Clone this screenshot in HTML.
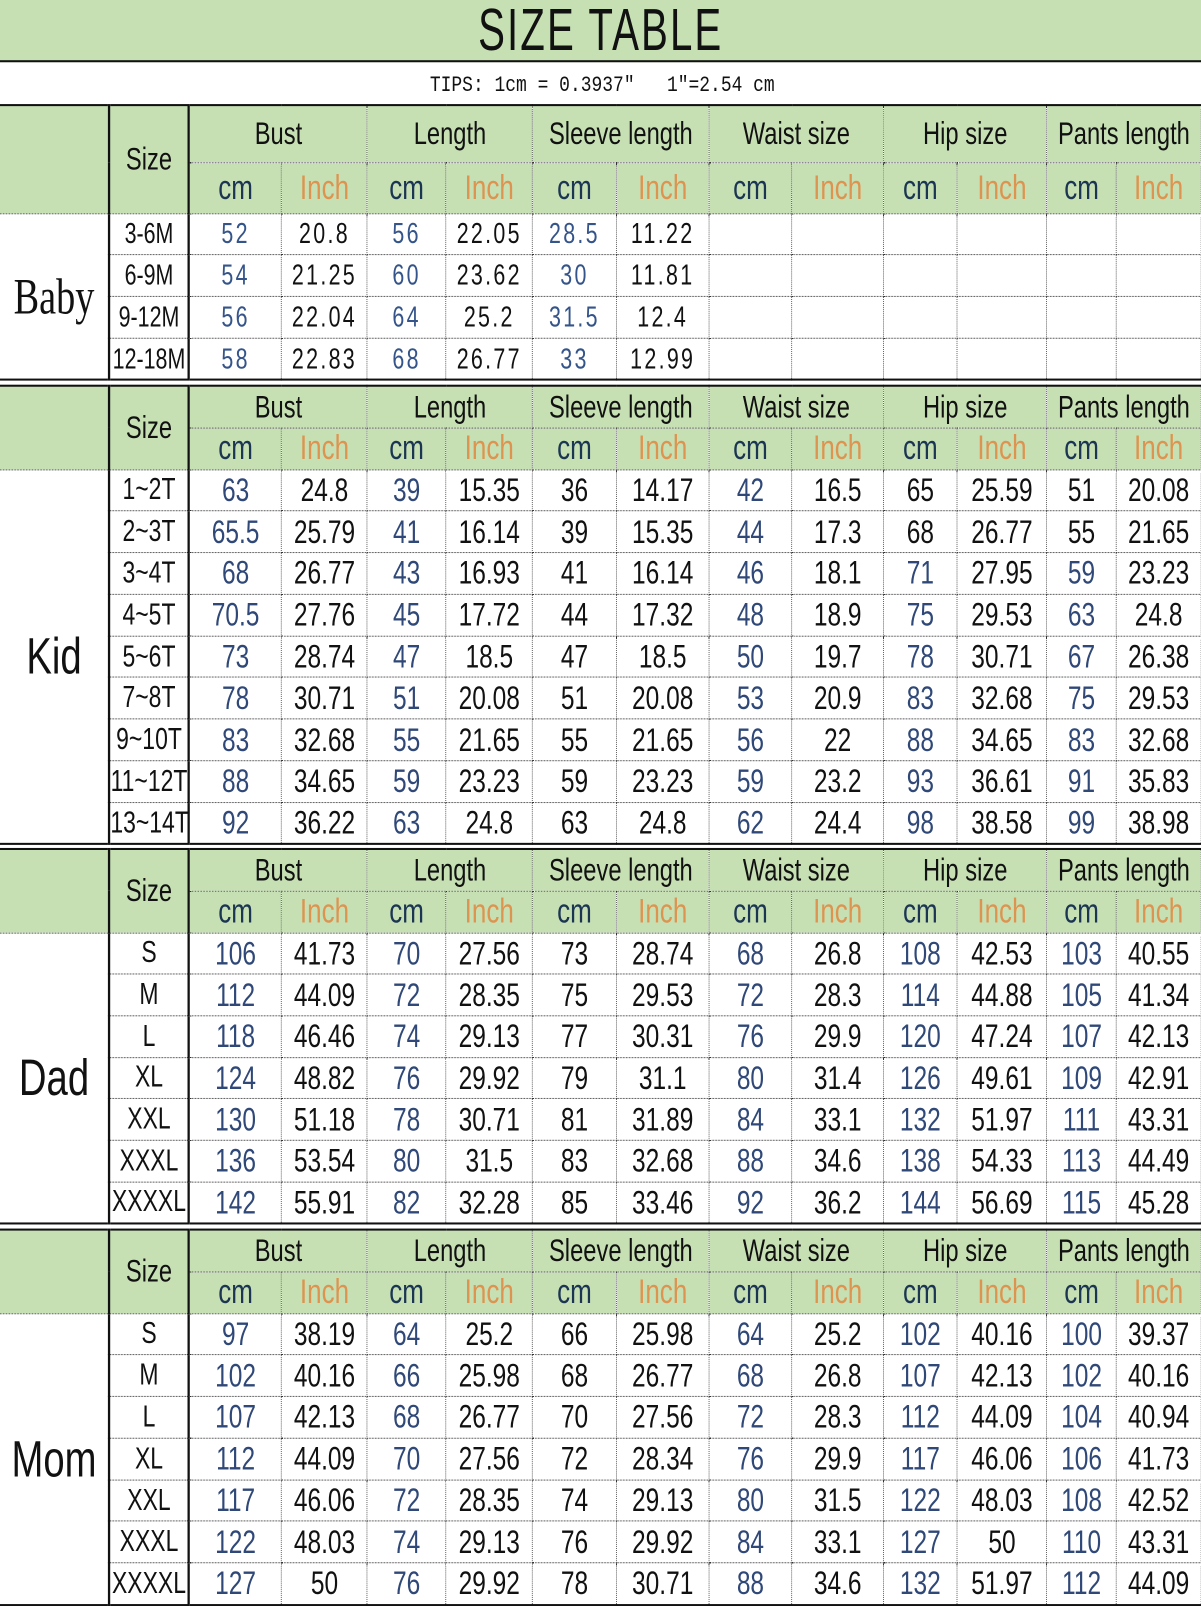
<!DOCTYPE html>
<html><head><meta charset="utf-8">
<style>
body{margin:0;width:1201px;height:1600px;overflow:hidden;background:#fff;position:relative;font-family:"Liberation Sans",sans-serif;}
#w{position:absolute;left:0;top:0;width:1177px;height:1568px;transform:scale(1.0204);transform-origin:0 0;}
.title{position:absolute;left:0;top:0;width:1177px;height:59px;background:#c6e0b4;border-bottom:2px solid #111;text-align:center;font-size:58px;line-height:60px;color:#111;}
.title span{display:inline-block;transform:scaleX(0.68);letter-spacing:3px;}
.tips{position:absolute;left:0;top:71px;width:1180px;text-align:center;font-size:22px;color:#111;font-family:"Liberation Mono",monospace;}
.tips span{display:inline-block;transform:scaleX(0.8);}
table{position:absolute;left:0;width:1569px;border-collapse:collapse;table-layout:fixed;border-top:2px solid #111;border-bottom:2px solid #111;transform:scaleX(0.75);transform-origin:0 0;}
td{border:1px dotted #333;text-align:center;padding:0;overflow:hidden;white-space:nowrap;font-size:32px;color:#111;}
td.cat{border-left:none;border-right:3px solid #111;font-size:50px;background:#fff;}
td.sz{border-right:3px solid #111;font-size:30px;}
tr.h td{background:#c6e0b4;font-size:31px;}
td.c{color:#2f4878;}
td.hc{color:#1b3552;}
td.hi{color:#dd9450;}
tr.h2 td{font-size:34px;}
.bb td{font-size:28px;letter-spacing:3px;}
.bb td.c{color:#34548a;}
.bb td.cat{font-family:"Liberation Serif",serif;font-size:50px;letter-spacing:0;}
.bb td.sz{letter-spacing:0;}
</style></head><body>
<div id="w">
<div class="title"><span>SIZE TABLE</span></div>
<div class="tips"><span>TIPS: 1cm = 0.3937″&nbsp;&nbsp;&nbsp;1″=2.54 cm</span></div>

<table style="top:102px">
<colgroup><col style="width:142.7px"><col style="width:104px"><col style="width:121.3px"><col style="width:112px"><col style="width:102.7px"><col style="width:113.3px"><col style="width:109.3px"><col style="width:121.3px"><col style="width:108px"><col style="width:120px"><col style="width:96px"><col style="width:117.3px"><col style="width:90.7px"><col style="width:110.7px"></colgroup>
<tr class="h" style="height:56px"><td class="cat" rowspan="2"></td><td class="sz" rowspan="2">Size</td><td colspan="2">Bust</td><td colspan="2">Length</td><td colspan="2">Sleeve length</td><td colspan="2">Waist size</td><td colspan="2">Hip size</td><td colspan="2">Pants length</td></tr>
<tr class="h h2" style="height:50px"><td class="hc">cm</td><td class="hi">Inch</td><td class="hc">cm</td><td class="hi">Inch</td><td class="hc">cm</td><td class="hi">Inch</td><td class="hc">cm</td><td class="hi">Inch</td><td class="hc">cm</td><td class="hi">Inch</td><td class="hc">cm</td><td class="hi">Inch</td></tr>
<tbody class="bb">
<tr style="height:40.8px"><td class="cat" rowspan="4">Baby</td><td class="sz">3-6M</td><td class="c">52</td><td>20.8</td><td class="c">56</td><td>22.05</td><td class="c">28.5</td><td>11.22</td><td></td><td></td><td></td><td></td><td></td><td></td></tr>
<tr style="height:40.8px"><td class="sz">6-9M</td><td class="c">54</td><td>21.25</td><td class="c">60</td><td>23.62</td><td class="c">30</td><td>11.81</td><td></td><td></td><td></td><td></td><td></td><td></td></tr>
<tr style="height:40.8px"><td class="sz">9-12M</td><td class="c">56</td><td>22.04</td><td class="c">64</td><td>25.2</td><td class="c">31.5</td><td>12.4</td><td></td><td></td><td></td><td></td><td></td><td></td></tr>
<tr style="height:40.8px"><td class="sz">12-18M</td><td class="c">58</td><td>22.83</td><td class="c">68</td><td>26.77</td><td class="c">33</td><td>12.99</td><td></td><td></td><td></td><td></td><td></td><td></td></tr>
</tbody></table>

<table style="top:377px">
<colgroup><col style="width:142.7px"><col style="width:104px"><col style="width:121.3px"><col style="width:112px"><col style="width:102.7px"><col style="width:113.3px"><col style="width:109.3px"><col style="width:121.3px"><col style="width:108px"><col style="width:120px"><col style="width:96px"><col style="width:117.3px"><col style="width:90.7px"><col style="width:110.7px"></colgroup>
<tr class="h" style="height:41px"><td class="cat" rowspan="2"></td><td class="sz" rowspan="2">Size</td><td colspan="2">Bust</td><td colspan="2">Length</td><td colspan="2">Sleeve length</td><td colspan="2">Waist size</td><td colspan="2">Hip size</td><td colspan="2">Pants length</td></tr>
<tr class="h h2" style="height:41px"><td class="hc">cm</td><td class="hi">Inch</td><td class="hc">cm</td><td class="hi">Inch</td><td class="hc">cm</td><td class="hi">Inch</td><td class="hc">cm</td><td class="hi">Inch</td><td class="hc">cm</td><td class="hi">Inch</td><td class="hc">cm</td><td class="hi">Inch</td></tr>
<tr style="height:40.8px"><td class="cat" rowspan="9">Kid</td><td class="sz">1~2T</td><td class="c">63</td><td>24.8</td><td class="c">39</td><td>15.35</td><td>36</td><td>14.17</td><td class="c">42</td><td>16.5</td><td>65</td><td>25.59</td><td>51</td><td>20.08</td></tr>
<tr style="height:40.8px"><td class="sz">2~3T</td><td class="c">65.5</td><td>25.79</td><td class="c">41</td><td>16.14</td><td>39</td><td>15.35</td><td class="c">44</td><td>17.3</td><td>68</td><td>26.77</td><td>55</td><td>21.65</td></tr>
<tr style="height:40.8px"><td class="sz">3~4T</td><td class="c">68</td><td>26.77</td><td class="c">43</td><td>16.93</td><td>41</td><td>16.14</td><td class="c">46</td><td>18.1</td><td class="c">71</td><td>27.95</td><td class="c">59</td><td>23.23</td></tr>
<tr style="height:40.8px"><td class="sz">4~5T</td><td class="c">70.5</td><td>27.76</td><td class="c">45</td><td>17.72</td><td>44</td><td>17.32</td><td class="c">48</td><td>18.9</td><td class="c">75</td><td>29.53</td><td class="c">63</td><td>24.8</td></tr>
<tr style="height:40.8px"><td class="sz">5~6T</td><td class="c">73</td><td>28.74</td><td class="c">47</td><td>18.5</td><td>47</td><td>18.5</td><td class="c">50</td><td>19.7</td><td class="c">78</td><td>30.71</td><td class="c">67</td><td>26.38</td></tr>
<tr style="height:40.8px"><td class="sz">7~8T</td><td class="c">78</td><td>30.71</td><td class="c">51</td><td>20.08</td><td>51</td><td>20.08</td><td class="c">53</td><td>20.9</td><td class="c">83</td><td>32.68</td><td class="c">75</td><td>29.53</td></tr>
<tr style="height:40.8px"><td class="sz">9~10T</td><td class="c">83</td><td>32.68</td><td class="c">55</td><td>21.65</td><td>55</td><td>21.65</td><td class="c">56</td><td>22</td><td class="c">88</td><td>34.65</td><td class="c">83</td><td>32.68</td></tr>
<tr style="height:40.8px"><td class="sz">11~12T</td><td class="c">88</td><td>34.65</td><td class="c">59</td><td>23.23</td><td>59</td><td>23.23</td><td class="c">59</td><td>23.2</td><td class="c">93</td><td>36.61</td><td class="c">91</td><td>35.83</td></tr>
<tr style="height:40.8px"><td class="sz">13~14T</td><td class="c">92</td><td>36.22</td><td class="c">63</td><td>24.8</td><td>63</td><td>24.8</td><td class="c">62</td><td>24.4</td><td class="c">98</td><td>38.58</td><td class="c">99</td><td>38.98</td></tr>
</table>

<table style="top:831px">
<colgroup><col style="width:142.7px"><col style="width:104px"><col style="width:121.3px"><col style="width:112px"><col style="width:102.7px"><col style="width:113.3px"><col style="width:109.3px"><col style="width:121.3px"><col style="width:108px"><col style="width:120px"><col style="width:96px"><col style="width:117.3px"><col style="width:90.7px"><col style="width:110.7px"></colgroup>
<tr class="h" style="height:41px"><td class="cat" rowspan="2"></td><td class="sz" rowspan="2">Size</td><td colspan="2">Bust</td><td colspan="2">Length</td><td colspan="2">Sleeve length</td><td colspan="2">Waist size</td><td colspan="2">Hip size</td><td colspan="2">Pants length</td></tr>
<tr class="h h2" style="height:41px"><td class="hc">cm</td><td class="hi">Inch</td><td class="hc">cm</td><td class="hi">Inch</td><td class="hc">cm</td><td class="hi">Inch</td><td class="hc">cm</td><td class="hi">Inch</td><td class="hc">cm</td><td class="hi">Inch</td><td class="hc">cm</td><td class="hi">Inch</td></tr>
<tr style="height:40.7px"><td class="cat" rowspan="7">Dad</td><td class="sz">S</td><td class="c">106</td><td>41.73</td><td class="c">70</td><td>27.56</td><td>73</td><td>28.74</td><td class="c">68</td><td>26.8</td><td class="c">108</td><td>42.53</td><td class="c">103</td><td>40.55</td></tr>
<tr style="height:40.7px"><td class="sz">M</td><td class="c">112</td><td>44.09</td><td class="c">72</td><td>28.35</td><td>75</td><td>29.53</td><td class="c">72</td><td>28.3</td><td class="c">114</td><td>44.88</td><td class="c">105</td><td>41.34</td></tr>
<tr style="height:40.7px"><td class="sz">L</td><td class="c">118</td><td>46.46</td><td class="c">74</td><td>29.13</td><td>77</td><td>30.31</td><td class="c">76</td><td>29.9</td><td class="c">120</td><td>47.24</td><td class="c">107</td><td>42.13</td></tr>
<tr style="height:40.7px"><td class="sz">XL</td><td class="c">124</td><td>48.82</td><td class="c">76</td><td>29.92</td><td>79</td><td>31.1</td><td class="c">80</td><td>31.4</td><td class="c">126</td><td>49.61</td><td class="c">109</td><td>42.91</td></tr>
<tr style="height:40.7px"><td class="sz">XXL</td><td class="c">130</td><td>51.18</td><td class="c">78</td><td>30.71</td><td>81</td><td>31.89</td><td class="c">84</td><td>33.1</td><td class="c">132</td><td>51.97</td><td class="c">111</td><td>43.31</td></tr>
<tr style="height:40.7px"><td class="sz">XXXL</td><td class="c">136</td><td>53.54</td><td class="c">80</td><td>31.5</td><td>83</td><td>32.68</td><td class="c">88</td><td>34.6</td><td class="c">138</td><td>54.33</td><td class="c">113</td><td>44.49</td></tr>
<tr style="height:40.7px"><td class="sz">XXXXL</td><td class="c">142</td><td>55.91</td><td class="c">82</td><td>32.28</td><td>85</td><td>33.46</td><td class="c">92</td><td>36.2</td><td class="c">144</td><td>56.69</td><td class="c">115</td><td>45.28</td></tr>
</table>

<table style="top:1204px">
<colgroup><col style="width:142.7px"><col style="width:104px"><col style="width:121.3px"><col style="width:112px"><col style="width:102.7px"><col style="width:113.3px"><col style="width:109.3px"><col style="width:121.3px"><col style="width:108px"><col style="width:120px"><col style="width:96px"><col style="width:117.3px"><col style="width:90.7px"><col style="width:110.7px"></colgroup>
<tr class="h" style="height:41px"><td class="cat" rowspan="2"></td><td class="sz" rowspan="2">Size</td><td colspan="2">Bust</td><td colspan="2">Length</td><td colspan="2">Sleeve length</td><td colspan="2">Waist size</td><td colspan="2">Hip size</td><td colspan="2">Pants length</td></tr>
<tr class="h h2" style="height:41px"><td class="hc">cm</td><td class="hi">Inch</td><td class="hc">cm</td><td class="hi">Inch</td><td class="hc">cm</td><td class="hi">Inch</td><td class="hc">cm</td><td class="hi">Inch</td><td class="hc">cm</td><td class="hi">Inch</td><td class="hc">cm</td><td class="hi">Inch</td></tr>
<tr style="height:40.8px"><td class="cat" rowspan="7">Mom</td><td class="sz">S</td><td class="c">97</td><td>38.19</td><td class="c">64</td><td>25.2</td><td>66</td><td>25.98</td><td class="c">64</td><td>25.2</td><td class="c">102</td><td>40.16</td><td class="c">100</td><td>39.37</td></tr>
<tr style="height:40.8px"><td class="sz">M</td><td class="c">102</td><td>40.16</td><td class="c">66</td><td>25.98</td><td>68</td><td>26.77</td><td class="c">68</td><td>26.8</td><td class="c">107</td><td>42.13</td><td class="c">102</td><td>40.16</td></tr>
<tr style="height:40.8px"><td class="sz">L</td><td class="c">107</td><td>42.13</td><td class="c">68</td><td>26.77</td><td>70</td><td>27.56</td><td class="c">72</td><td>28.3</td><td class="c">112</td><td>44.09</td><td class="c">104</td><td>40.94</td></tr>
<tr style="height:40.8px"><td class="sz">XL</td><td class="c">112</td><td>44.09</td><td class="c">70</td><td>27.56</td><td>72</td><td>28.34</td><td class="c">76</td><td>29.9</td><td class="c">117</td><td>46.06</td><td class="c">106</td><td>41.73</td></tr>
<tr style="height:40.8px"><td class="sz">XXL</td><td class="c">117</td><td>46.06</td><td class="c">72</td><td>28.35</td><td>74</td><td>29.13</td><td class="c">80</td><td>31.5</td><td class="c">122</td><td>48.03</td><td class="c">108</td><td>42.52</td></tr>
<tr style="height:40.8px"><td class="sz">XXXL</td><td class="c">122</td><td>48.03</td><td class="c">74</td><td>29.13</td><td>76</td><td>29.92</td><td class="c">84</td><td>33.1</td><td class="c">127</td><td>50</td><td class="c">110</td><td>43.31</td></tr>
<tr style="height:40.8px"><td class="sz">XXXXL</td><td class="c">127</td><td>50</td><td class="c">76</td><td>29.92</td><td>78</td><td>30.71</td><td class="c">88</td><td>34.6</td><td class="c">132</td><td>51.97</td><td class="c">112</td><td>44.09</td></tr>
</table>
</div>
</body></html>
